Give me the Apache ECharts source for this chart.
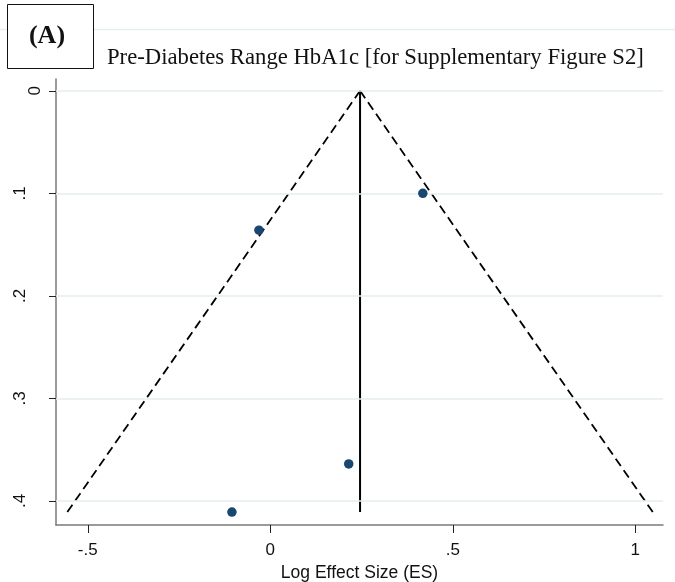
<!DOCTYPE html>
<html>
<head>
<meta charset="utf-8">
<script src="https://cdn.jsdelivr.net/npm/echarts@6/dist/echarts.min.js"></script>
<style>
  html, body { margin: 0; padding: 0; background: #fff; }
  #chart { width: 675px; height: 582px; }
</style>
</head>
<body>
<div id="chart"></div>
<script>
// Study estimates: log effect size (x) and its standard error (y)
const studyES = [0.418, -0.031, 0.215, -0.105];
const studySE = [0.100, 0.136, 0.364, 0.411];

// Pooled estimate (vertical line) and pseudo 95% confidence limits
const pooledES = 0.246;
const pooledSpan = [0, 0.411];
const funnelLeft = [[-0.556, 0.411], [0.246, 0]];
const funnelRight = [[0.246, 0], [1.048, 0.411]];

// Axis ranges and ticks
const xRange = [-0.587, 1.076];
const yRange = [-0.0115, 0.4236];
const xTicks = [-0.5, 0, 0.5, 1];
const yTicks = [0, 0.1, 0.2, 0.3, 0.4];

const titleText = 'Pre-Diabetes Range HbA1c [for Supplementary Figure S2]';
const panelLabel = '(A)';
const xName = 'Log Effect Size (ES)';

// Stata-style tick text: ".5" rather than "0.5"
function fmtTick(v) {
  if (v === 0) return '0';
  return String(v).replace(/^(-?)0\./, '$1.');
}

const chart = echarts.init(document.getElementById('chart'), null, { renderer: 'canvas' });

const axisLineStyle = { color: '#7a7a7a', width: 1.5 };
const tickStyle = { color: '#222', width: 1 };
const tickFont = { fontFamily: 'Liberation Sans', fontSize: 17, color: '#111' };

chart.setOption({
  animation: false,
  backgroundColor: '#ffffff',
  title: {
    text: titleText,
    left: 102,
    top: 42,
    textStyle: { fontFamily: 'Liberation Serif', fontWeight: 'normal', fontSize: 22.7, color: '#111' }
  },
  graphic: [
    { type: 'line', shape: { x1: 0, y1: 29.5, x2: 675, y2: 29.5 }, style: { stroke: '#e6eef1', lineWidth: 1.5 }, z: 1 },
    { type: 'rect', shape: { x: 7.5, y: 4.5, width: 86, height: 64 }, style: { fill: '#fff', stroke: '#111', lineWidth: 1 }, z: 2 },
    { type: 'text', x: 47, y: 36.5, z: 3,
      style: { text: panelLabel, fontFamily: 'Liberation Serif', fontWeight: 'bold', fontSize: 26, fill: '#111', align: 'center', verticalAlign: 'middle' } }
  ],
  grid: { left: 56, right: 12, top: 79, bottom: 57, containLabel: false, outerBoundsMode: 'none' },
  xAxis: {
    type: 'value',
    min: xRange[0], max: xRange[1],
    name: xName,
    nameLocation: 'middle',
    nameGap: 34,
    nameTextStyle: { fontFamily: 'Liberation Sans', fontSize: 17.5, color: '#111' },
    axisLine: { show: true, onZero: false, lineStyle: axisLineStyle },
    axisTick: { show: true, length: 8, customValues: xTicks, lineStyle: tickStyle },
    axisLabel: Object.assign({ customValues: xTicks, formatter: fmtTick, margin: 17 }, tickFont),
    splitLine: { show: false }
  },
  yAxis: {
    type: 'value',
    inverse: true,
    min: yRange[0], max: yRange[1],
    axisLine: { show: true, onZero: false, lineStyle: axisLineStyle },
    axisTick: { show: true, length: 7, customValues: yTicks, lineStyle: tickStyle },
    axisLabel: Object.assign({
      customValues: yTicks,
      rotate: 90,
      margin: 12,
      formatter: v => (v === 0 ? '{z|0}' : '{n|' + fmtTick(v) + '}'),
      rich: {
        z: Object.assign({ padding: [0, 0, 0, 0] }, tickFont),
        n: Object.assign({ padding: [0, 0, 15, 0] }, tickFont)
      }
    }, tickFont),
    splitLine: { show: false }
  },
  series: [
    {
      // horizontal reference lines at the SE ticks
      type: 'line', data: [], z: 1,
      markLine: {
        silent: true, symbol: 'none', animation: false,
        label: { show: false },
        lineStyle: { color: '#e6eef1', width: 1.5, type: 'solid' },
        data: yTicks.map(v => ({ yAxis: v }))
      }
    },
    {
      type: 'line', data: funnelLeft, symbol: 'none', z: 3,
      lineStyle: { color: '#000', width: 1.8, type: [9, 5] }
    },
    {
      type: 'line', data: funnelRight, symbol: 'none', z: 3,
      lineStyle: { color: '#000', width: 1.8, type: [9, 5] }
    },
    {
      type: 'line', data: pooledSpan.map(s => [pooledES, s]), symbol: 'none', z: 3,
      lineStyle: { color: '#000', width: 2 }
    },
    {
      type: 'scatter', z: 5,
      data: studyES.map((x, i) => [x, studySE[i]]),
      symbol: 'circle', symbolSize: 9.5,
      itemStyle: { color: '#1a476f', opacity: 1 }
    }
  ]
});
</script>
</body>
</html>
